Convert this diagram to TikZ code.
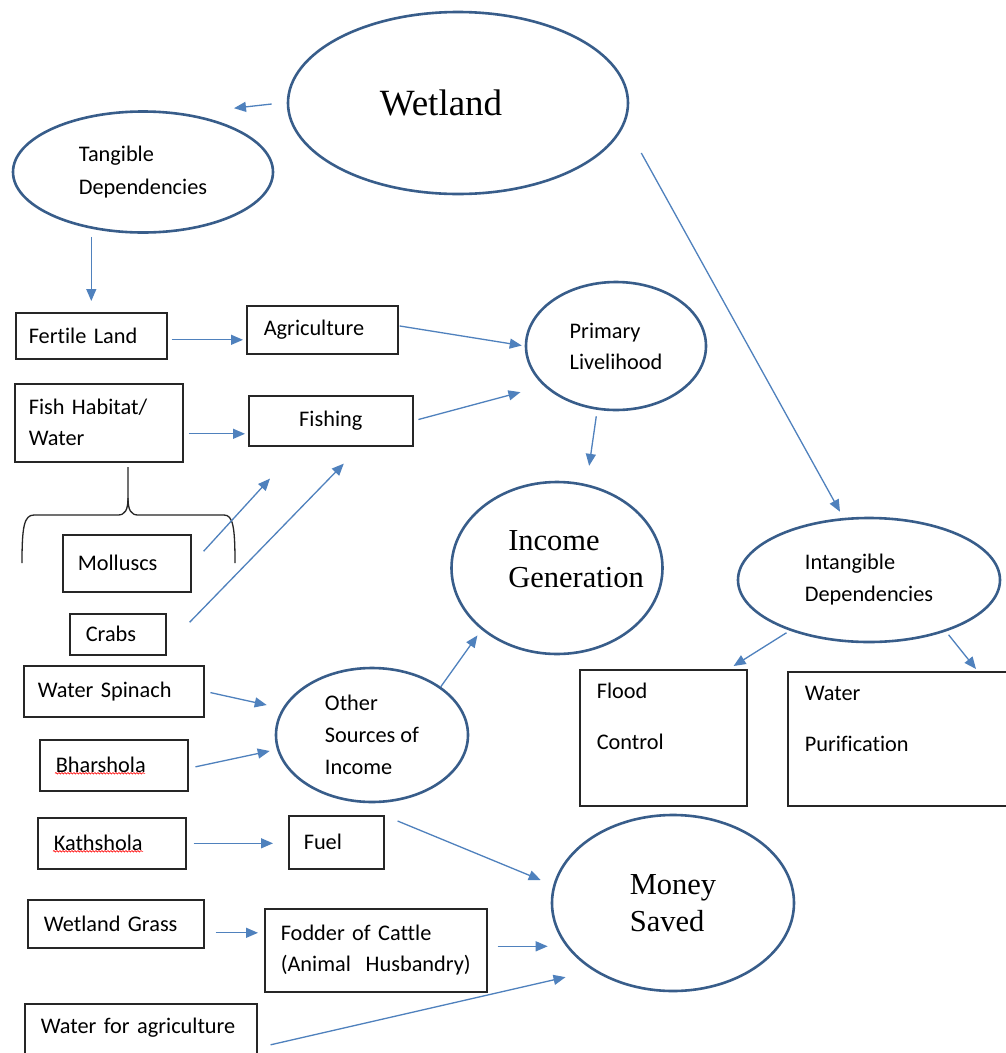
\documentclass[tikz,border=0pt]{standalone}
\usepackage{fontspec}
\setmainfont{Carlito}[Ligatures=NoCommon]
\newfontfamily\wlserif{Liberation Serif}
\definecolor{wlnavy}{RGB}{56,93,138}
\definecolor{wlarrow}{RGB}{79,129,189}
\definecolor{wlframe}{RGB}{38,38,38}
\usetikzlibrary{arrows.meta,positioning,shapes.geometric,decorations.pathmorphing}

\begin{document}
\begin{tikzpicture}[
  x=1pt, y=-1pt,
  bubble/.style={
    ellipse, draw=wlnavy, line width=2.6pt,
    inner sep=2pt, align=left,
    font=\fontsize{22.3}{31}\selectfont
  },
  bigtext/.style={font=\wlserif\fontsize{30.5}{37}\selectfont, align=left},
  wbox/.style={
    rectangle, draw=wlframe, line width=1.6pt,
    anchor=north west, inner ysep=2pt, align=left,
    font=\fontsize{22.3}{31}\selectfont
  },
  conn/.style={-{Triangle[length=12pt,width=10pt]}, line width=1.3pt, draw=wlarrow},
  bracepath/.style={draw=wlframe, line width=1.3pt},
  spell/.style={draw=red, line width=0.6pt, decorate,
    decoration={snake, amplitude=0.8pt, segment length=3pt}}
]
\path[use as bounding box, fill=white] (0,0) rectangle (1005,1053);

% ellipses
\node[bubble, minimum width=340, minimum height=182,
  label={[font=\wlserif\fontsize{37}{44}\selectfont, xshift=-17]center:Wetland}] (wet) at (458,103) {};
\node[bubble, minimum width=260, minimum height=121] (tan) at (143,172) {Tangible\\[2pt]Dependencies};
\node[bubble, minimum width=180, minimum height=128] (prim) at (616,346) {Primary\\Livelihood};
\node[bubble, minimum width=211, minimum height=172,
  label={[bigtext, xshift=19, yshift=9]center:Income\\Generation}] (inc) at (557,568) {};
\node[bubble, minimum width=192, minimum height=134] (other) at (372,735) {Other\\[1pt]Sources of\\[1pt]Income};
\node[bubble, minimum width=262, minimum height=124] (int) at (869,580) {Intangible\\[1pt]Dependencies};
\node[bubble, bigtext, minimum width=242, minimum height=176] (money) at (673,903) {Money\\Saved};

% boxes
\node[wbox, text width=125, inner xsep=13, minimum height=46] (fert) at (15,312) {Fertile Land};
\node[wbox, text width=117, inner xsep=17, minimum height=48] (agr) at (246,305) {Agriculture};
\node[wbox, text width=140, inner xsep=14, minimum height=78] (fish) at (14,383) {Fish Habitat/\\Water};
\node[wbox, text width=136, inner xsep=14, minimum height=50, align=center] (fishing) at (248,395) {Fishing};
\node[wbox, text width=98, inner xsep=15, minimum height=57] (moll) at (62,534) {Molluscs};
\node[wbox, text width=64, inner xsep=16, minimum height=41] (crab) at (69,613) {Crabs};
\node[wbox, text width=152, inner xsep=14, minimum height=51] (spin) at (23,665) {Water Spinach};
\node[wbox, text width=116, inner xsep=16, minimum height=51] (bhar) at (39,739) {Bharshola};
\node[wbox, text width=116, inner xsep=16, minimum height=51] (kath) at (37,817) {Kathshola};
\node[wbox, text width=144, inner xsep=16, minimum height=48] (grass) at (27,899) {Wetland Grass};
\node[wbox, text width=200, inner xsep=16, inner ysep=0, text height=30, text depth=40] (wagr) at (24,1003) {\mbox{Water for agriculture}};
\node[wbox, text width=65, inner xsep=15, minimum height=53] (fuel) at (288,815) {Fuel};
\node[wbox, text width=190, inner xsep=16, minimum height=83] (fodder) at (264,908) {Fodder of Cattle\\\mbox{(Animal\ \ Husbandry)}};
\node[wbox, text width=133, inner xsep=17, inner ysep=0, text height=29, text depth=107] (flood) at (579,669) {Flood\\[20pt]Control};
\node[wbox, text width=226, inner xsep=17, inner ysep=0, text height=29, text depth=105] (wpur) at (787,671) {Water\\[20pt]Purification};

% spell-check marks
\draw[spell] ([xshift=16,yshift=-8]bhar.west) -- ++(90,0);
\draw[spell] ([xshift=16,yshift=-8]kath.west) -- ++(90,0);

% brace under the fish habitat
\draw[bracepath] (22,563) .. controls (22,527) and (24,515) .. (34,515) -- (118,515)
  .. controls (125,515) and (128,510) .. (128,498) -- (128,467);
\draw[bracepath] (128,498) .. controls (128,510) and (131,515) .. (138,515) -- (224,515)
  .. controls (233,515) and (235,527) .. (235,563);

\draw[conn] ([xshift=-15,yshift=-1]wet.west) -- ([xshift=91,yshift=2]tan.north);
\draw[conn, shorten <=3, shorten >=11] (tan.south -| fert.north) -- (fert.north);
\draw[conn, shorten <=4, shorten >=3] ([yshift=-4]fert.east) -- ([yshift=-4]fert.east -| agr.west);
\draw[conn, shorten <=1, shorten >=3] ([yshift=4]agr.east) -- (prim.west);
\draw[conn, shorten <=5, shorten >=3] ([yshift=-11]fish.east) -- ([yshift=-11]fish.east -| fishing.west);
\draw[conn, shorten <=5] (fishing.east) -- ([xshift=-31]prim.south west);
\draw[conn, shorten <=5, shorten >=15] ([xshift=-19]prim.south) -- ([xshift=30]inc.north);
\draw[conn] ([xshift=12,yshift=12]moll.east) -- ([xshift=22,yshift=-32]fishing.south west);
\draw[conn] ([xshift=23,yshift=12]crab.east) -- ([xshift=13,yshift=-17]fishing.south);
\draw[conn, shorten <=6] (spin.east) -- ([xshift=-8,yshift=30]other.west);
\draw[conn, shorten <=7] ([yshift=-3]bhar.east) -- ([xshift=-5,yshift=-16]other.west);
\draw[conn, shorten >=7] (other.north east) -- (inc.south west);
\draw[conn, shorten <=7, shorten >=15] (kath.east) -- (kath.east -| fuel.west);
\draw[conn] ([xshift=13,yshift=-6]fuel.north east) -- ([xshift=-10,yshift=23]money.west);
\draw[conn, shorten <=11, shorten >=6] ([yshift=-9]grass.east) -- ([yshift=-9]grass.east -| fodder.west);
\draw[conn, shorten <=10, shorten >=3] ([yshift=4]fodder.east) -- ([yshift=4]fodder.east -| money.west);
\draw[conn] ([xshift=13,yshift=-6]wagr.east) -- ([xshift=-21,yshift=-11]money.south west);
\draw[conn] ([xshift=12,yshift=-50]wet.east) -- ([xshift=-29,yshift=5]int.north);
\draw[conn] ([xshift=11,yshift=-8]int.south west) -- ([xshift=-14,yshift=3]flood.north east);
\draw[conn] ([xshift=-14,yshift=-10]int.south east) -- ([xshift=189,yshift=2]wpur.north west);
\end{tikzpicture}
\end{document}
